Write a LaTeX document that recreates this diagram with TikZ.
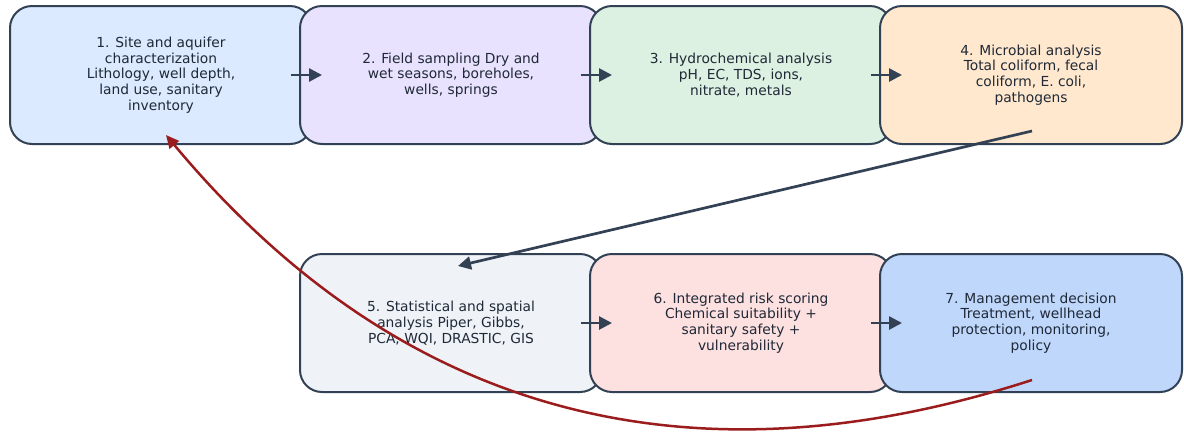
\documentclass[tikz,border=0pt]{standalone}
\usepackage{fontspec}
\setmainfont{DejaVu Sans}
\usetikzlibrary{arrows.meta,calc}

\definecolor{edge}{HTML}{334155}
\definecolor{ink}{HTML}{1F2937}
\definecolor{loop}{HTML}{9B1C1C}
\definecolor{fillA}{HTML}{DBEAFE}
\definecolor{fillB}{HTML}{E8E2FE}
\definecolor{fillC}{HTML}{DDF1E2}
\definecolor{fillD}{HTML}{FFE8CE}
\definecolor{fillE}{HTML}{EFF3F8}
\definecolor{fillF}{HTML}{FDE0E0}
\definecolor{fillG}{HTML}{BFD7FB}

\tikzset{
  stagebox/.style={draw=edge, line width=2pt, rounded corners=22pt,
    minimum width=302pt, minimum height=138pt, align=center,
    text=ink, font=\fontsize{13.8}{15.7}\selectfont, inner sep=0pt},
  flow/.style={draw=edge, line width=2.7pt,
    -{Triangle[length=13pt,width=13pt]}},
  feedback/.style={draw=loop, line width=2.5pt,
    -{Triangle[length=13pt,width=12pt]}}
}

\begin{document}
\begin{tikzpicture}[x=1pt,y=-1pt]
\useasboundingbox (0,0) rectangle (1184,432);

% top row
\node[stagebox, fill=fillA] (s1) at (161,75)
  {1. Site and aquifer\\characterization\\Lithology, well depth,\\land use, sanitary\\inventory};
\node[stagebox, fill=fillB] (s2) at (451,75)
  {2. Field sampling Dry and\\wet seasons, boreholes,\\wells, springs};
\node[stagebox, fill=fillC] (s3) at (741,75)
  {3. Hydrochemical analysis\\pH, EC, TDS, ions,\\nitrate, metals};
\node[stagebox, fill=fillD] (s4) at (1031,75)
  {4. Microbial analysis\\Total coliform, fecal\\coliform, E. coli,\\pathogens};

% bottom row
\node[stagebox, fill=fillE] (s5) at (451,323)
  {5. Statistical and spatial\\analysis Piper, Gibbs,\\PCA, WQI, DRASTIC, GIS};
\node[stagebox, fill=fillF] (s6) at (741,323)
  {6. Integrated risk scoring\\Chemical suitability +\\sanitary safety +\\vulnerability};
\node[stagebox, fill=fillG] (s7) at (1031,323)
  {7. Management decision\\Treatment, wellhead\\protection, monitoring,\\policy};

% sequential steps
\draw[flow] ([xshift=-22pt]s1.east) -- ([xshift=23pt]s2.west);
\draw[flow] ([xshift=-22pt]s2.east) -- ([xshift=23pt]s3.west);
\draw[flow] ([xshift=-22pt]s3.east) -- ([xshift=23pt]s4.west);
\draw[flow] ([xshift=-22pt]s5.east) -- ([xshift=23pt]s6.west);
\draw[flow] ([xshift=-22pt]s6.east) -- ([xshift=23pt]s7.west);

% wrap from microbial analysis to statistics
\coordinate (a4) at ([xshift=1pt,yshift=14pt]s4.south);
\coordinate (a5) at ([xshift=7pt,yshift=-13pt]s5.north);
\draw[flow] (a4) -- (a5);

% feedback loop from management back to characterization
\coordinate (f7) at ([xshift=1pt,yshift=13pt]s7.south);
\coordinate (f1) at ([xshift=5pt,yshift=10pt]s1.south);
\draw[feedback] (f7) .. controls (683,493) and (396,411) .. (f1);
\end{tikzpicture}
\end{document}
